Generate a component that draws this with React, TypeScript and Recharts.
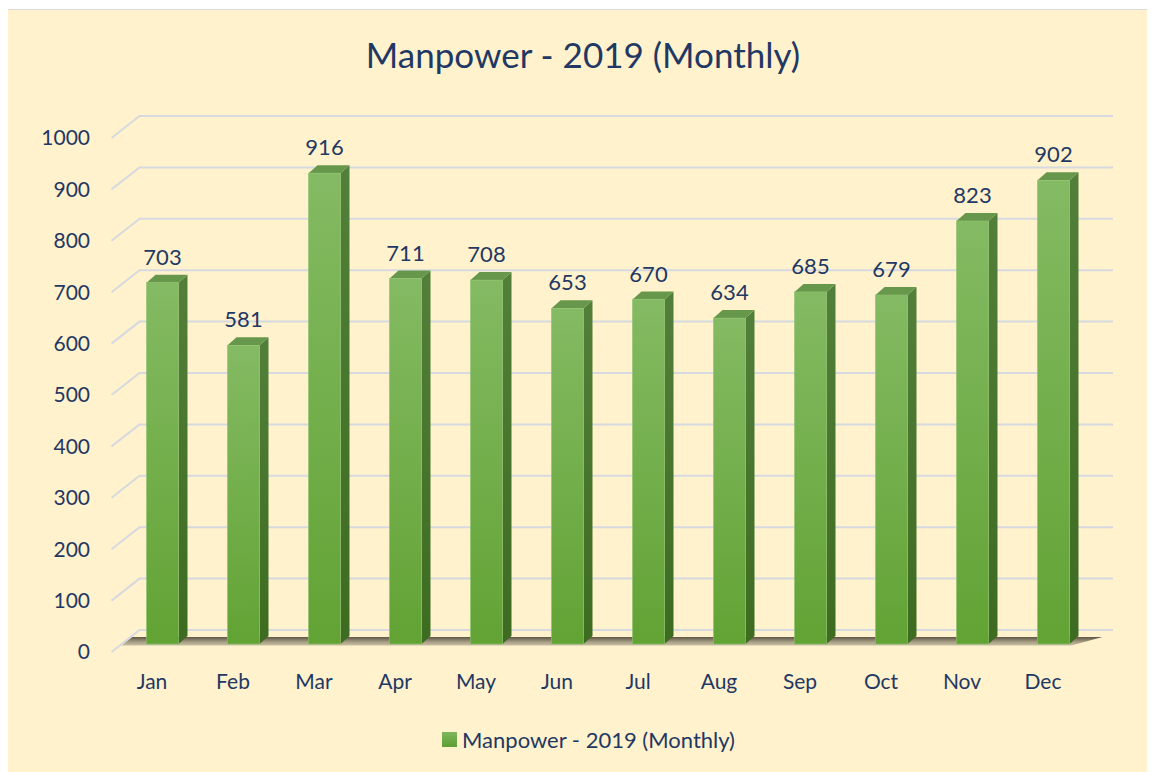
import React from "react";
import { BarChart, Bar, XAxis, YAxis, CartesianGrid, Legend, LabelList } from "recharts";

const months = ["Jan", "Feb", "Mar", "Apr", "May", "Jun", "Jul", "Aug", "Sep", "Oct", "Nov", "Dec"];
const manpower = [703, 581, 916, 711, 708, 653, 670, 634, 685, 679, 823, 902];
const yTicks = [0, 100, 200, 300, 400, 500, 600, 700, 800, 900, 1000];
const seriesName = "Manpower - 2019 (Monthly)";
const titleText = "Manpower - 2019 (Monthly)";

const data = months.map((m, i) => ({ month: m, value: manpower[i] }));

const NAVY = "#1F3864";
const FONT = "Lato, 'Open Sans', sans-serif";
const DX = 10; // bar depth offset (front plane -> bar plane)
const DY = -8;
const DEPTH_X = 9;
const DEPTH_Y = 8;

const Bar3D = (props: any) => {
  const { x, y, width, height, index } = props;
  if (height == null || width == null) return null;
  const fx = x + DX;
  const fy = y + DY;
  const w = width;
  const h = height;
  const gid = `front-${index}`;
  const sid = `side-${index}`;
  return (
    <g>
      <defs>
        <linearGradient id={gid} x1="0" y1="0" x2="0" y2="1">
          <stop offset="0%" stopColor="#84BA63" />
          <stop offset="100%" stopColor="#62A334" />
        </linearGradient>
        <linearGradient id={sid} x1="0" y1="0" x2="0" y2="1">
          <stop offset="0%" stopColor="#52803A" />
          <stop offset="100%" stopColor="#3D6B20" />
        </linearGradient>
      </defs>
      <polygon
        points={`${fx + w},${fy} ${fx + w + DEPTH_X},${fy - DEPTH_Y} ${fx + w + DEPTH_X},${fy + h - DEPTH_Y} ${fx + w},${fy + h}`}
        fill={`url(#${sid})`}
      />
      <polygon
        points={`${fx},${fy} ${fx + DEPTH_X},${fy - DEPTH_Y} ${fx + w + DEPTH_X},${fy - DEPTH_Y} ${fx + w},${fy}`}
        fill="#67974B"
      />
      <rect x={fx} y={fy} width={w} height={h} fill={`url(#${gid})`} stroke="#8DC26E" strokeWidth={0.6} />
    </g>
  );
};

const GridLine = (props: any) => {
  const { x1, x2, y1, index } = props;
  const isBottom =
    typeof props.y === "number" && typeof props.height === "number"
      ? Math.abs(y1 - (props.y + props.height)) < 1
      : index === 0;
  const fy = y1 - 6.5;
  const by = y1 - 15;
  return (
    <g key={`g-${index}`}>
      {isBottom && (
        <g>
          <defs>
            <linearGradient id="floorGrad" x1="0" y1="0" x2="0" y2="1">
              <stop offset="0%" stopColor="#5E5644" />
              <stop offset="55%" stopColor="#A39A82" />
              <stop offset="100%" stopColor="#C9C0A3" />
            </linearGradient>
          </defs>
          <path
            d={`M${x1},${y1} L${x1 + 28},${y1 - 22} L${x2 + 29.5},${y1 - 22}`}
            fill="none"
            stroke="#D6D9DF"
            strokeWidth={2}
          />
          <polygon
            points={`${x1 + 10},${fy} ${x1 + 21},${by} ${x2 + 19},${by} ${x2 - 12},${fy}`}
            fill="url(#floorGrad)"
          />
        </g>
      )}
      {!isBottom && (
        <path
          d={`M${x1},${y1} L${x1 + 28},${y1 - 22} L${x2 + 29.5},${y1 - 22}`}
          fill="none"
          stroke="#D6D9DF"
          strokeWidth={2}
        />
      )}
    </g>
  );
};

const ValueLabel = (props: any) => {
  const { x, y, width, value } = props;
  return (
    <text
      x={x + width / 2 + DX}
      y={y + DY - 18}
      textAnchor="middle"
      fill={NAVY}
      fontSize={22}
      fontFamily={FONT}
    >
      {value}
    </text>
  );
};

const LegendContent = () => (
  <div
    style={{
      display: "flex",
      justifyContent: "center",
      alignItems: "center",
      height: 30,
      paddingLeft: 14,
      fontFamily: FONT,
      fontSize: 22,
      color: NAVY,
    }}
  >
    <span
      style={{
        display: "inline-block",
        width: 15,
        height: 15,
        marginRight: 5,
        background: "linear-gradient(#7DB65C, #5E9F35)",
      }}
    />
    <span>{seriesName}</span>
  </div>
);

export default function App() {
  return (
    <div
      style={{
        position: "relative",
        marginLeft: -1,
        marginTop: 1,
        width: 1160,
        height: 775,
        background: "#FFF2CC",
        border: "1px solid #D9D9D9",
        overflow: "hidden",
      }}
    >
      <div
        style={{
          position: "absolute",
          left: 0,
          top: 14,
          width: 1147,
          paddingLeft: 3,
          boxSizing: "border-box",
          textAlign: "center",
          fontFamily: FONT,
          fontSize: 35,
          color: NAVY,
          lineHeight: "60px",
        }}
      >
        {titleText}
      </div>
      <BarChart
        width={1147}
        height={762}
        data={data}
        margin={{ top: 128, right: 71.5, bottom: 18, left: 0 }}
      >
        <CartesianGrid vertical={false} horizontal={GridLine} />
        <XAxis
          dataKey="month"
          axisLine={false}
          tickLine={false}
          height={72}
          tickMargin={16}
          tick={{ fill: NAVY, fontSize: 21, fontFamily: FONT }}
          interval={0}
        />
        <YAxis
          domain={[0, 1000]}
          ticks={yTicks}
          axisLine={false}
          tickLine={false}
          width={103.5}
          tickMargin={15.5}
          tick={{ fill: NAVY, fontSize: 21, fontFamily: FONT }}
          interval={0}
        />
        <Legend
          verticalAlign="bottom"
          height={30}
          content={LegendContent}
          wrapperStyle={{ left: 0, width: 1147 }}
        />
        <Bar
          dataKey="value"
          name={seriesName}
          barSize={32}
          shape={Bar3D}
          isAnimationActive={false}
        >
          <LabelList dataKey="value" content={ValueLabel} />
        </Bar>
      </BarChart>
    </div>
  );
}
